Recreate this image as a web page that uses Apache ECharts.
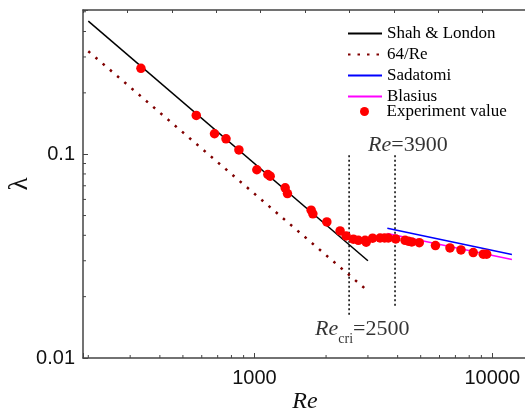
<!DOCTYPE html>
<html>
<head>
<meta charset="utf-8">
<script src="https://cdn.jsdelivr.net/npm/echarts@6/dist/echarts.min.js"></script>
<style>
  html, body { margin: 0; padding: 0; background: #fff; }
  #chart { width: 525px; height: 412px; }
</style>
</head>
<body>
<div id="chart"></div>
<script>
// Friction factor λ against Reynolds number Re, both axes logarithmic.

const xRange = [190, 14000];
const yRange = [0.01, 0.51];

// Correlation lines (end points of straight segments in log–log space)
const shahLondon = [[200, 0.45], [3000, 0.030]];
const laminar64 = [[200, 0.32], [3000, 0.0213]];
const sadatomi = [[3620, 0.0433], [12100, 0.0322]];
const blasius = [[3620, 0.0408], [12100, 0.0304]];

// Measured points
const experimentRe = [333, 569, 679, 759, 860, 1023, 1138, 1164, 1346, 1376,
  1731, 1760, 2015, 2291, 2428, 2606, 2735, 2919, 2950, 3139, 3374, 3524, 3655,
  3927, 4298, 4437, 4585, 4933, 5769, 6640, 7387, 8318, 9165, 9475];
const experimentLambda = [0.264, 0.155, 0.126, 0.119, 0.105, 0.0839, 0.0795,
  0.0780, 0.0684, 0.0641, 0.0531, 0.0510, 0.0465, 0.0420, 0.0397, 0.0383,
  0.0378, 0.0378, 0.0370, 0.0387, 0.0388, 0.0388, 0.0388, 0.0384, 0.0378,
  0.0374, 0.0371, 0.0368, 0.0356, 0.0347, 0.0339, 0.0329, 0.0323, 0.0323];

// Regime boundaries
const reCritical = [[2500, 0.0989], [2500, 0.016]];
const reTransition = [[3900, 0.0989], [3900, 0.0177]];

// Minor tick positions on the log axes
const xMinorTicks = [200, 300, 400, 500, 600, 700, 800, 900,
  2000, 3000, 4000, 5000, 6000, 7000, 8000, 9000];
const yMinorTicks = [0.02, 0.03, 0.04, 0.05, 0.06, 0.07, 0.08, 0.09,
  0.2, 0.3, 0.4, 0.5];

const axisColor = '#444';
const serif = 'Liberation Serif';
const sans = 'Liberation Sans';

function decadeLabel(v) {
  const l = Math.log10(v);
  return Math.abs(l - Math.round(l)) < 1e-6 ? String(+v.toPrecision(6)) : '';
}

const chart = echarts.init(document.getElementById('chart'), null, { renderer: 'canvas' });

const legendText = { fontFamily: serif, fontSize: 17, color: '#000', lineHeight: 17 };

const option = {
  animation: false,
  backgroundColor: '#fff',
  grid: { left: 83, top: 10, width: 444, height: 348, outerBoundsMode: 'none', containLabel: false },
  legend: [
    {
      data: ['Shah & London', '64/Re', 'Sadatomi', 'Blasius'],
      orient: 'vertical',
      left: 347,
      top: 25,
      padding: 0,
      itemWidth: 34,
      itemHeight: 14,
      itemGap: 4,
      itemStyle: { opacity: 0 },
      textStyle: legendText
    },
    {
      data: ['Experiment value'],
      orient: 'vertical',
      left: 360,
      top: 103,
      padding: 0,
      itemWidth: 34,
      itemHeight: 9,
      textStyle: legendText
    }
  ],
  xAxis: [
    {
      type: 'log',
      logBase: 10,
      min: xRange[0],
      max: xRange[1],
      position: 'bottom',
      axisLine: { lineStyle: { color: axisColor, width: 1.5 } },
      axisTick: { inside: true, length: 5, lineStyle: { color: axisColor, width: 1 } },
      axisLabel: { formatter: decadeLabel, fontFamily: sans, fontSize: 20, color: '#111', margin: 10 },
      splitLine: { show: false },
      name: 'Re',
      nameLocation: 'middle',
      nameGap: 32,
      nameMoveOverlap: false,
      nameTextStyle: { fontFamily: serif, fontStyle: 'italic', fontSize: 24, color: '#111' }
    },
    {
      type: 'value',
      min: 0,
      max: 10,
      interval: 1,
      position: 'top',
      axisLine: { lineStyle: { color: axisColor, width: 1.5 } },
      axisTick: { inside: true, length: 3, lineStyle: { color: axisColor, width: 1 } },
      axisLabel: { show: false },
      splitLine: { show: false }
    }
  ],
  yAxis: [
    {
      type: 'log',
      logBase: 10,
      min: yRange[0],
      max: yRange[1],
      axisLine: { show: true, lineStyle: { color: axisColor, width: 1.5 } },
      axisTick: { inside: true, length: 5, lineStyle: { color: axisColor, width: 1 } },
      axisLabel: { formatter: decadeLabel, fontFamily: sans, fontSize: 20, color: '#111', margin: 8 },
      splitLine: { show: false },
      name: 'λ',
      nameLocation: 'middle',
      nameGap: 50,
      nameMoveOverlap: false,
      nameTextStyle: { fontFamily: serif, fontSize: 27, color: '#111' }
    }
  ],
  series: [
    {
      type: 'custom',
      silent: true,
      clip: false,
      xAxisIndex: 0,
      yAxisIndex: 0,
      data: xMinorTicks.map(v => [v, yRange[0]]),
      renderItem: function (params, api) {
        const p = api.coord([api.value(0), api.value(1)]);
        return { type: 'line', shape: { x1: p[0], y1: p[1], x2: p[0], y2: p[1] - 3 },
          style: { stroke: axisColor, lineWidth: 1 } };
      }
    },
    {
      type: 'custom',
      silent: true,
      clip: false,
      xAxisIndex: 0,
      yAxisIndex: 0,
      data: yMinorTicks.map(v => [xRange[0], v]),
      renderItem: function (params, api) {
        const p = api.coord([api.value(0), api.value(1)]);
        return { type: 'line', shape: { x1: p[0], y1: p[1], x2: p[0] + 3, y2: p[1] },
          style: { stroke: axisColor, lineWidth: 1 } };
      }
    },
    {
      name: 'Shah & London',
      type: 'line',
      data: shahLondon,
      symbol: 'none',
      color: '#000',
      lineStyle: { color: '#000', width: 1.5 },
      z: 3
    },
    {
      name: '64/Re',
      type: 'line',
      data: laminar64,
      symbol: 'none',
      color: '#800000',
      lineStyle: { color: '#800000', width: 2.5, type: [2.5, 7] },
      z: 3
    },
    {
      name: 'Sadatomi',
      type: 'line',
      data: sadatomi,
      symbol: 'none',
      color: '#0000ff',
      lineStyle: { color: '#0000ff', width: 1.5 },
      z: 3
    },
    {
      name: 'Blasius',
      type: 'line',
      data: blasius,
      symbol: 'none',
      color: '#ff00ff',
      lineStyle: { color: '#ff00ff', width: 1.5 },
      z: 3
    },
    {
      name: 'Experiment value',
      type: 'scatter',
      data: experimentRe.map((re, i) => [re, experimentLambda[i]]),
      symbol: 'circle',
      symbolSize: 9.5,
      itemStyle: { color: '#ff0000', opacity: 1 },
      z: 5
    },
    {
      type: 'line',
      data: reCritical,
      symbol: 'none',
      silent: true,
      lineStyle: { color: '#000', width: 1.5, type: [2, 2.5] },
      z: 2
    },
    {
      type: 'line',
      data: reTransition,
      symbol: 'none',
      silent: true,
      lineStyle: { color: '#000', width: 1.5, type: [2, 2.5] },
      z: 2
    },
    {
      type: 'scatter',
      silent: true,
      symbolSize: 0,
      z: 6,
      data: [
        {
          value: reTransition[0],
          label: {
            show: true,
            position: [-27, -10],
            align: 'left',
            verticalAlign: 'middle',
            formatter: '{i|Re}{n|=3900}',
            rich: {
              i: { fontFamily: serif, fontStyle: 'italic', fontSize: 22, color: '#000', lineHeight: 22 },
              n: { fontFamily: serif, fontSize: 22, color: '#000', lineHeight: 22 }
            }
          }
        },
        {
          value: reCritical[1],
          label: {
            show: true,
            position: [-34, 16],
            align: 'left',
            verticalAlign: 'middle',
            formatter: '{i|Re}{s|cri}{n|=2500}',
            rich: {
              i: { fontFamily: serif, fontStyle: 'italic', fontSize: 22, color: '#000', lineHeight: 22, verticalAlign: 'top' },
              s: { fontFamily: serif, fontSize: 14, color: '#000', padding: [14, 0, 0, 0], verticalAlign: 'bottom' },
              n: { fontFamily: serif, fontSize: 22, color: '#000', lineHeight: 22, verticalAlign: 'top' }
            }
          }
        }
      ]
    }
  ]
};

chart.setOption(option);
</script>
</body>
</html>
